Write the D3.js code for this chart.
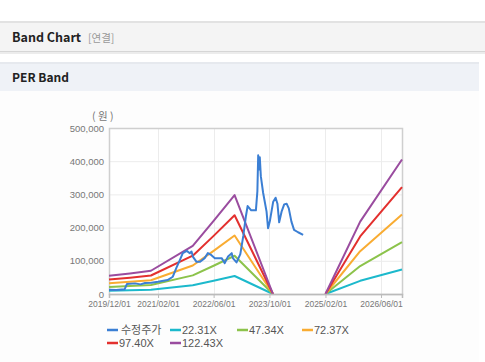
<!DOCTYPE html>
<html>
<head>
<meta charset="utf-8">
<script src="https://cdn.jsdelivr.net/npm/d3@7"></script>
<style>
  html, body { margin: 0; padding: 0; background: #fff; }
  body { font-family: "Noto Sans CJK KR", "Noto Sans", sans-serif; }
</style>
</head>
<body>
<svg width="485" height="362"></svg>
<script>
// ---- data ----
const bandDates = ["2019-12-01", "2020-06-01", "2020-12-01", "2021-12-01", "2022-06-01",
                   "2022-12-01", "2023-11-01", "2024-06-01", "2025-02-01", "2025-12-01", "2026-12-01"];
const band2231  = [10000, 11300, 12800, 26400, 40100, 54300, 0, null, 0, 39700, 73800];
const band4734  = [21300, 24000, 27100, 56100, 85100, 115200, 0, null, 0, 84300, 156600];
const band7237  = [32500, 36600, 41400, 85700, 130000, 176100, 0, null, 0, 128900, 239400];
const band9740  = [43700, 49300, 55700, 115300, 175000, 237100, 0, null, 0, 173500, 322200];
const band12243 = [55000, 62000, 70000, 145000, 220000, 298000, 0, null, 0, 218000, 405000];

const priceDates = ["2019-12-01", "2020-02-01", "2020-04-15", "2020-05-05", "2020-07-15", "2020-09-01",
  "2020-10-10", "2020-12-05", "2021-02-01", "2021-04-25", "2021-06-10", "2021-07-10", "2021-08-10",
  "2021-09-05", "2021-10-10", "2021-11-05", "2021-11-20", "2021-12-03", "2022-01-03", "2022-02-03",
  "2022-03-15", "2022-04-12", "2022-05-13", "2022-06-12", "2022-08-10", "2022-09-06", "2022-10-03",
  "2022-11-06", "2022-11-16", "2022-12-18", "2023-01-20", "2023-02-15", "2023-03-10", "2023-03-25",
  "2023-04-25", "2023-06-05", "2023-06-18", "2023-06-25", "2023-07-03", "2023-07-09", "2023-07-18",
  "2023-08-07", "2023-09-06", "2023-09-19", "2023-10-04", "2023-11-03", "2023-11-24", "2023-12-10",
  "2023-12-25", "2024-01-15", "2024-02-07", "2024-02-28", "2024-03-18", "2024-04-10", "2024-05-03",
  "2024-06-07", "2024-07-21"];
const priceValues = [13000, 12000, 14000, 30000, 32000, 29000,
  33000, 34000, 37000, 42000, 52000, 78000, 102000,
  123000, 130000, 123000, 128000, 112000, 97000, 97000,
  108000, 123000, 117000, 108000, 108000, 93000, 112000,
  123000, 108000, 95000, 120000, 175000, 235000, 265000,
  252000, 252000, 310000, 418000, 375000, 412000, 355000,
  305000, 248000, 198000, 218000, 278000, 290000, 272000,
  216000, 248000, 270000, 272000, 258000, 218000, 193000,
  186000, 178000];

const xTickDates = ["2019-12-01", "2021-02-01", "2022-06-01", "2023-10-01", "2025-02-01", "2026-06-01"];
const yTicks = [0, 100000, 200000, 300000, 400000, 500000];

const seriesNames  = ["수정주가", "22.31X", "47.34X", "72.37X", "97.40X", "122.43X"];
const seriesColors = ["#3b7fd4", "#1cb9cc", "#8cc34b", "#f9ac32", "#e3302e", "#9a4c9f"];

// ---- layout ----
const svg = d3.select("svg");
const parse = d3.timeParse("%Y-%m-%d");
const fmtDate = d3.timeFormat("%Y/%m/%d");
const sansFont = "'Liberation Sans', Arial, sans-serif";

// header bars
svg.append("rect").attr("x", 0).attr("y", 21).attr("width", 485).attr("height", 2).attr("fill", "#e2e2e2");
svg.append("rect").attr("x", 0).attr("y", 23).attr("width", 485).attr("height", 28).attr("fill", "#f4f4f4");
svg.append("rect").attr("x", 0).attr("y", 51).attr("width", 485).attr("height", 1).attr("fill", "#d6d6d6");
svg.append("rect").attr("x", 0).attr("y", 52).attr("width", 485).attr("height", 2).attr("fill", "#ececec");
svg.append("text").attr("x", 12).attr("y", 42)
  .attr("font-size", 12.5).attr("font-weight", "bold").attr("fill", "#222")
  .text("Band Chart");
svg.append("text").attr("x", 88).attr("y", 42)
  .attr("font-size", 10.5).attr("fill", "#999")
  .text("[연결]");

svg.append("rect").attr("x", 0).attr("y", 62).attr("width", 479).attr("height", 2).attr("fill", "#e6e9ee");
svg.append("rect").attr("x", 0).attr("y", 64).attr("width", 479).attr("height", 27).attr("fill", "#eff2f7");
svg.append("text").attr("x", 12).attr("y", 82)
  .attr("font-size", 12).attr("font-weight", "bold").attr("fill", "#222")
  .text("PER Band");
svg.append("rect").attr("x", 0).attr("y", 91).attr("width", 479).attr("height", 271).attr("fill", "#fdfdfd");

// chart
const plotLeft = 109, plotRight = 402, plotTop = 128, plotBottom = 294;

const x = d3.scaleTime()
  .domain([parse("2019-12-01"), parse("2026-12-01")])
  .range([plotLeft, plotRight]);
const y = d3.scaleLinear()
  .domain([0, 500000])
  .range([plotBottom, plotTop]);

const plot = svg.append("g");
plot.append("rect").attr("x", plotLeft).attr("y", plotTop)
  .attr("width", plotRight - plotLeft).attr("height", plotBottom - plotTop).attr("fill", "#fff");

// grid
plot.selectAll(".hgrid").data(yTicks).join("line")
  .attr("x1", plotLeft).attr("x2", plotRight)
  .attr("y1", d => y(d) + 0.5).attr("y2", d => y(d) + 0.5)
  .attr("stroke", "#ececec");
plot.selectAll(".vgrid").data(xTickDates).join("line")
  .attr("x1", d => Math.round(x(parse(d))) + 0.5).attr("x2", d => Math.round(x(parse(d))) + 0.5)
  .attr("y1", plotTop).attr("y2", plotBottom)
  .attr("stroke", "#ececec");

// frame
plot.append("rect").attr("x", plotLeft + 0.5).attr("y", plotTop + 0.5)
  .attr("width", plotRight - plotLeft).attr("height", plotBottom - plotTop)
  .attr("fill", "none").attr("stroke", "#cfcfcf").attr("stroke-width", 1.5);

// axes
const yAxis = d3.axisLeft(y).tickValues(yTicks).tickSize(0).tickPadding(5)
  .tickFormat(d3.format(","));
const gy = svg.append("g").attr("transform", `translate(${plotLeft},0)`).call(yAxis);
gy.select(".domain").remove();
gy.selectAll("text").attr("font-size", 9.5).attr("fill", "#777")
  .attr("font-family", sansFont);

const xAxis = d3.axisBottom(x).tickValues(xTickDates.map(parse)).tickSize(4).tickPadding(3)
  .tickFormat(fmtDate);
const gx = svg.append("g").attr("transform", `translate(0,${plotBottom})`).call(xAxis);
gx.select(".domain").attr("stroke", "#bbb").attr("stroke-width", 1.5);
gx.selectAll("line").attr("stroke", "#bbb");
gx.selectAll("text").attr("font-size", 8.5).attr("fill", "#777")
  .attr("font-family", sansFont);

svg.append("text").attr("x", 92).attr("y", 120)
  .attr("font-size", 10.5).attr("fill", "#777")
  .text("( 원 )");

// lines
const line = d3.line()
  .defined(d => d.v != null)
  .x(d => x(d.date))
  .y(d => y(d.v));

const bands = [band2231, band4734, band7237, band9740, band12243];
bands.forEach((vals, i) => {
  const pts = bandDates.map((d, j) => ({ date: parse(d), v: vals[j] }));
  plot.append("path")
    .attr("d", line(pts))
    .attr("fill", "none")
    .attr("stroke", seriesColors[i + 1])
    .attr("stroke-width", 2)
    .attr("stroke-linejoin", "round");
});

const pricePts = priceDates.map((d, j) => ({ date: parse(d), v: priceValues[j] }));
plot.append("path")
  .attr("d", line(pricePts))
  .attr("fill", "none")
  .attr("stroke", seriesColors[0])
  .attr("stroke-width", 2)
  .attr("stroke-linejoin", "round");

// legend
const legendPos = [[107, 330], [170, 330], [237, 330], [302, 330], [107, 343], [170, 343]];
const legend = svg.append("g");
seriesNames.forEach((name, i) => {
  const [lx, ly] = legendPos[i];
  legend.append("line")
    .attr("x1", lx).attr("x2", lx + 11)
    .attr("y1", ly).attr("y2", ly)
    .attr("stroke", seriesColors[i]).attr("stroke-width", 2.5);
  legend.append("text")
    .attr("x", lx + (i === 0 ? 14 : 12)).attr("y", ly + 4)
    .attr("font-size", 11).attr("fill", "#555")
    .attr("font-family", i === 0 ? "'Noto Sans CJK KR', sans-serif" : sansFont)
    .text(name);
});
</script>
</body>
</html>
